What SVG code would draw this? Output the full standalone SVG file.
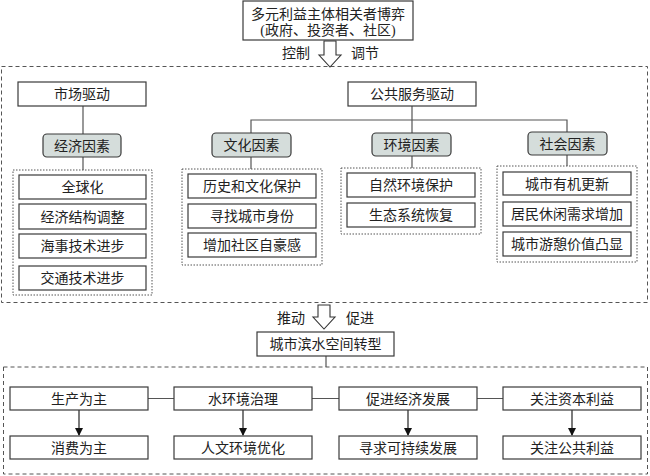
<svg xmlns="http://www.w3.org/2000/svg" width="650" height="476" viewBox="0 0 650 476">
<defs>
<style>
text{font-family:"Liberation Serif","Noto Sans CJK SC",serif;font-size:14px;fill:#222;text-anchor:middle}
.box{fill:#fff;stroke:#3a3a3a;stroke-width:1.2}
.fac{fill:#d5dddb;stroke:#3a3a3a;stroke-width:1.2}
.outer{fill:none;stroke:#555;stroke-width:1;stroke-dasharray:4,3}
.grp{fill:none;stroke:#555;stroke-width:1;stroke-dasharray:1.5,1.5}
.ln{fill:none;stroke:#555;stroke-width:1.2}
.arr{fill:none;stroke:#222;stroke-width:1.2;marker-end:url(#ah)}
.blk{fill:#fff;stroke:#333;stroke-width:1.1}
</style>
<marker id="ah" markerWidth="8" markerHeight="8" refX="7" refY="4" orient="auto" markerUnits="userSpaceOnUse">
<path d="M0,0 L8,4 L0,8 Z" fill="#111"/>
</marker>
</defs>
<rect width="650" height="476" fill="#fff"/>

<g id="frames">
<rect class="outer" x="1.5" y="66.5" width="646" height="236"/>
<rect class="outer" x="3.5" y="367" width="644" height="107"/>
<rect class="grp" x="13" y="170" width="139" height="125"/>
<rect class="grp" x="182" y="169" width="140" height="96"/>
<rect class="grp" x="341" y="168" width="140" height="66"/>
<rect class="grp" x="497" y="166" width="140" height="96"/>
</g>

<g id="connectors">
<path class="blk" d="M324,41 H336 V55 H341 L330,67 L319,55 H324 Z"/>
<path class="blk" d="M318,305 H330 V317 H335 L324,329 L313,317 H318 Z"/>
<path class="ln" d="M83,106 V134 M83,157 V170"/>
<path class="ln" d="M412,106 V120 M251,133 V120 H567 V132 M412,120 V133"/>
<path class="ln" d="M251,157 V169 M412,156 V168 M567,155 V166"/>
<path class="ln" d="M326,356 V367"/>
<path class="ln" d="M148,398.5 H174 M312,398.5 H339 M477,398.5 H503"/>
<path class="arr" d="M79,410 V435"/>
<path class="arr" d="M243,410 V435"/>
<path class="arr" d="M408,410 V435"/>
<path class="arr" d="M572,410 V435"/>
</g>

<g id="n-top"><rect class="box" x="243" y="1" width="170" height="39"/><text x="328" y="19">多元利益主体相关者博弈</text><text x="328" y="35">(政府、投资者、社区)</text></g>
<g id="l-ctrl"><text x="296" y="58">控制</text><text x="365" y="58">调节</text></g>

<g id="n-market"><rect class="box" x="18" y="82" width="128" height="24"/><text x="82" y="99">市场驱动</text></g>
<g id="n-public"><rect class="box" x="348" y="82" width="128" height="24"/><text x="412" y="99">公共服务驱动</text></g>

<g id="f-econ"><rect class="fac" x="43" y="134" width="78" height="23" rx="4"/><text x="82" y="150.5">经济因素</text></g>
<g id="f-cult"><rect class="fac" x="212" y="133" width="79" height="24" rx="4"/><text x="251.5" y="150">文化因素</text></g>
<g id="f-env"><rect class="fac" x="372" y="133" width="79" height="23" rx="4"/><text x="411.5" y="149.5">环境因素</text></g>
<g id="f-soc"><rect class="fac" x="528" y="132" width="79" height="23" rx="4"/><text x="567.5" y="148.5">社会因素</text></g>

<g id="e1"><rect class="box" x="19" y="175" width="127" height="24"/><text x="82.5" y="192">全球化</text></g>
<g id="e2"><rect class="box" x="19" y="204" width="127" height="25"/><text x="82.5" y="221.5">经济结构调整</text></g>
<g id="e3"><rect class="box" x="19" y="234" width="127" height="24"/><text x="82.5" y="251">海事技术进步</text></g>
<g id="e4"><rect class="box" x="19" y="266" width="127" height="24"/><text x="82.5" y="283">交通技术进步</text></g>

<g id="c1"><rect class="box" x="188" y="174" width="128" height="24"/><text x="252" y="191">历史和文化保护</text></g>
<g id="c2"><rect class="box" x="188" y="204" width="128" height="24"/><text x="252" y="221">寻找城市身份</text></g>
<g id="c3"><rect class="box" x="188" y="233" width="128" height="24"/><text x="252" y="250">增加社区自豪感</text></g>

<g id="v1"><rect class="box" x="347" y="173" width="128" height="24"/><text x="411" y="190">自然环境保护</text></g>
<g id="v2"><rect class="box" x="347" y="203" width="128" height="24"/><text x="411" y="220">生态系统恢复</text></g>

<g id="s1"><rect class="box" x="503" y="172" width="128" height="23"/><text x="567" y="188.5">城市有机更新</text></g>
<g id="s2"><rect class="box" x="503" y="202" width="128" height="24"/><text x="567" y="219">居民休闲需求增加</text></g>
<g id="s3"><rect class="box" x="503" y="232" width="128" height="24"/><text x="567" y="249">城市游憩价值凸显</text></g>

<g id="l-push"><text x="291" y="323">推动</text><text x="360" y="323">促进</text></g>
<g id="n-trans"><rect class="box" x="257" y="332" width="137" height="24"/><text x="325.5" y="349">城市滨水空间转型</text></g>

<g id="r1a"><rect class="box" x="10" y="387" width="138" height="23"/><text x="79" y="403.5">生产为主</text></g>
<g id="r1b"><rect class="box" x="174" y="387" width="138" height="23"/><text x="243" y="403.5">水环境治理</text></g>
<g id="r1c"><rect class="box" x="339" y="387" width="138" height="23"/><text x="408" y="403.5">促进经济发展</text></g>
<g id="r1d"><rect class="box" x="503" y="387" width="138" height="23"/><text x="572" y="403.5">关注资本利益</text></g>

<g id="r2a"><rect class="box" x="10" y="436" width="138" height="23"/><text x="79" y="452.5">消费为主</text></g>
<g id="r2b"><rect class="box" x="174" y="436" width="138" height="23"/><text x="243" y="452.5">人文环境优化</text></g>
<g id="r2c"><rect class="box" x="339" y="436" width="138" height="23"/><text x="408" y="452.5">寻求可持续发展</text></g>
<g id="r2d"><rect class="box" x="503" y="436" width="138" height="23"/><text x="572" y="452.5">关注公共利益</text></g>
</svg>
